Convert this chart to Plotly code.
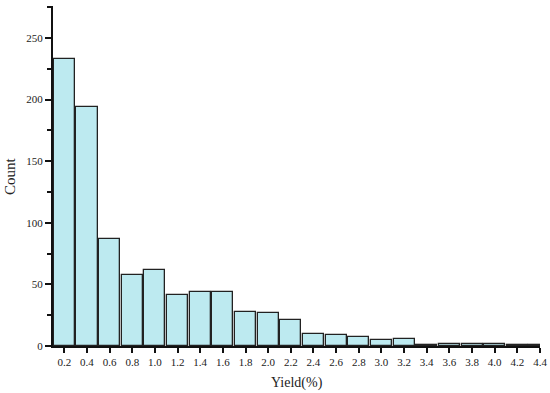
import plotly.graph_objects as go

yield_bins = [0.2, 0.4, 0.6, 0.8, 1.0, 1.2, 1.4, 1.6, 1.8, 2.0, 2.2,
              2.4, 2.6, 2.8, 3.0, 3.2, 3.4, 3.6, 3.8, 4.0, 4.2, 4.4]
counts = [233, 194, 87, 58, 62, 41, 44, 44, 28, 27, 21,
          10, 9, 7, 5, 6, 1, 2, 2, 2, 1, 1]
tick_labels = [f"{v:.1f}" for v in yield_bins]

fig = go.Figure(go.Bar(
    x=yield_bins, y=counts, width=0.186,
    marker=dict(color="#bdeaf0", line=dict(color="#222222", width=1.3)),
))

font = "Liberation Serif, Times New Roman, serif"
fig.update_layout(
    width=550, height=393,
    margin=dict(l=53, r=10, t=6, b=47, autoexpand=False),
    paper_bgcolor="white", plot_bgcolor="white",
    font=dict(family=font, color="#222222", size=11),
    showlegend=False,
    bargap=0,
)
fig.update_xaxes(
    range=[0.1, 4.4], tickvals=yield_bins, ticktext=tick_labels,
    showline=True, linecolor="#111111", linewidth=2,
    ticks="outside", ticklen=5, tickwidth=1.5, tickcolor="#111111",
    showgrid=False, zeroline=False, automargin=False,
    tickfont=dict(size=11, family=font),
)
fig.update_yaxes(
    range=[0, 276], tickvals=[0, 50, 100, 150, 200, 250],
    showline=True, linecolor="#111111", linewidth=2,
    ticks="outside", ticklen=6, tickwidth=1.5, tickcolor="#111111",
    minor=dict(tickvals=[25, 75, 125, 175, 225, 275], ticks="outside", ticklen=4, tickwidth=1.5, tickcolor="#111111"),
    showgrid=False, zeroline=False, automargin=False,
    tickfont=dict(size=11, family=font),
)
fig.add_annotation(text="Yield(%)", xref="paper", yref="paper", x=0.5, y=0,
                   yshift=-37, xanchor="center", yanchor="middle", showarrow=False,
                   font=dict(size=14, family=font, color="#222222"))
fig.add_annotation(text="Count", xref="paper", yref="paper", x=0, y=0.5,
                   xshift=-43, xanchor="center", yanchor="middle", showarrow=False,
                   textangle=-90, font=dict(size=15, family=font, color="#222222"))

fig.write_html("out.html", config={"displayModeBar": False},
               post_script="document.body.style.margin='0';document.body.style.overflow='hidden';")
